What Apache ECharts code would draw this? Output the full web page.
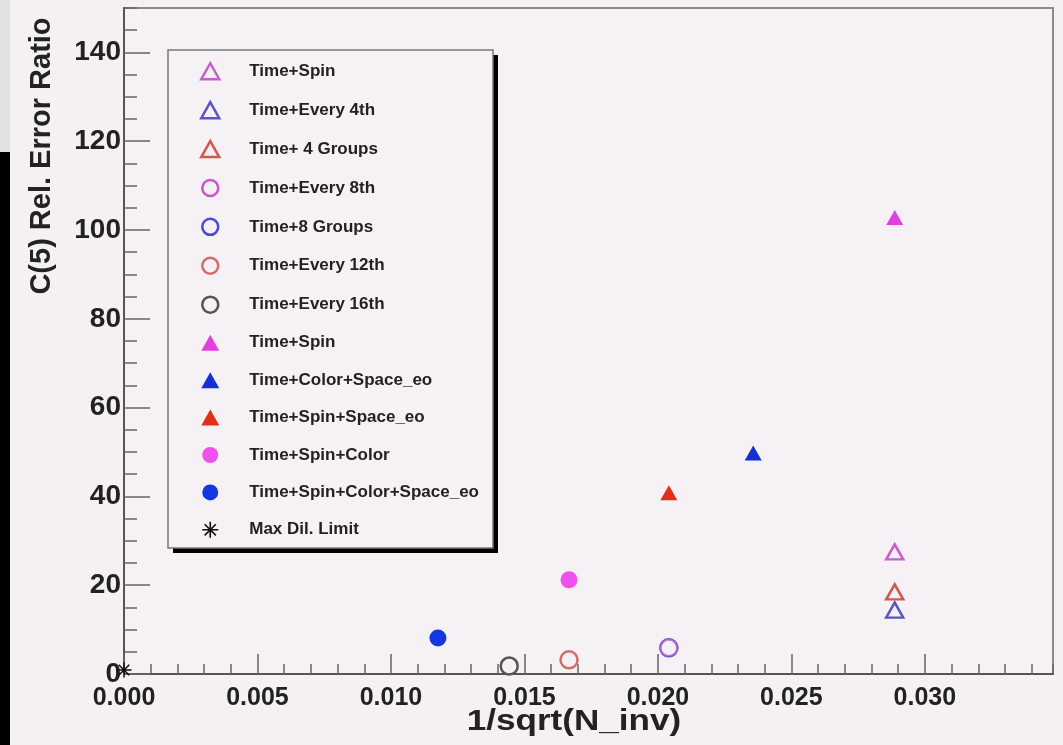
<!DOCTYPE html>
<html><head><meta charset="utf-8">
<script src="https://cdn.jsdelivr.net/npm/echarts@6/dist/echarts.min.js"></script>
<style>html,body{margin:0;padding:0;background:#f4f0f4;}#c{width:1063px;height:745px;}</style>
</head><body><div id="c"></div>
<script>
// ---- data ----
const seriesNames = ['Time+Spin','Time+Every 4th','Time+ 4 Groups','Time+Every 8th','Time+8 Groups','Time+Every 12th','Time+Every 16th','Time+Spin ','Time+Color+Space_eo','Time+Spin+Space_eo','Time+Spin+Color','Time+Spin+Color+Space_eo','Max Dil. Limit'];
const xValues = [0.02887,0.02887,0.02887,0.02041,0.02041,0.01667,0.01443,0.02887,0.02357,0.02041,0.01667,0.01176,0.0];
const yValues = [27.5,14.4,18.5,5.9,5.9,3.2,1.8,102.8,49.8,40.8,21.2,8.1,0.9];
const xAxisTitle = '1/sqrt(N_inv)';
const yAxisTitle = 'C(5) Rel. Error Ratio';
const xRange = [0, 0.0348];
const yRange = [0, 150];
const xMajorStep = 0.005, xMinorStep = 0.001;
const yMajorStep = 20, yMinorStep = 5;

// ---- styles ----
const markerKinds = ['triangle','triangle','triangle','circle','circle','circle','circle','triangle','triangle','triangle','circle','circle','star'];
const markerFilled = [false,false,false,false,false,false,false,true,true,true,true,true,true];
const markerColors = ['#c75fcf','#5a55c0','#cf5a50','#cc55cc','#4a4ad8','#d46a6a','#555555','#e040e0','#1430d0','#e0301c','#f050ee','#1438e0','#111111'];
const markerOpacity = [1,1,1,0.5,1,1,1,1,1,1,1,1,1];
const markerZ = [5,6,7,12,11,13,14,15,16,17,18,19,20];

const starPath = 'path://M-1,-10L1,-10L1,10L-1,10Z M-10,-1L10,-1L10,1L-10,1Z M-6.3,-7.7L7.7,6.3L6.3,7.7L-7.7,-6.3Z M6.3,-7.7L7.7,-6.3L-6.3,7.7L-7.7,6.3Z';

const font = 'Liberation Sans, Arial, Helvetica, sans-serif';

function styleFor(i, forceOpaque) {
  const op = forceOpaque ? 1 : markerOpacity[i];
  return markerFilled[i]
    ? { color: markerColors[i], opacity: op }
    : { color: '#f4f0f4', borderColor: markerColors[i], borderWidth: 2.5, opacity: op };
}

const series = seriesNames.map((n, i) => {
  const kind = markerKinds[i];
  const symbol = kind === 'star' ? starPath : kind;
  const size = kind === 'triangle' ? [17, 15] : (kind === 'star' ? 15 : 17);
  return {
    type: 'scatter', name: n, symbol: symbol, symbolSize: size,
    xAxisIndex: 0, yAxisIndex: 0,
    itemStyle: styleFor(i, false),
    data: [[xValues[i], yValues[i]]],
    z: markerZ[i]
  };
});

const legendData = seriesNames.map((n, i) => ({ name: n, itemStyle: styleFor(i, true) }));

const chart = echarts.init(document.getElementById('c'), null, { renderer: 'canvas' });
chart.setOption({
  backgroundColor: '#f4f0f4',
  animation: false,
  grid: { left: 124, right: 10, top: 8, bottom: 71, show: true, borderColor: '#8a8a8a', borderWidth: 2, backgroundColor: '#f5f1f5' },
  xAxis: [
    { type: 'value', min: xRange[0], max: xRange[1], interval: xMajorStep, position: 'bottom',
      axisLine: { show: true, onZero: false, lineStyle: { color: '#555', width: 2 } },
      axisTick: { show: true, inside: true, length: 20, lineStyle: { color: '#666', width: 1.5 } },
      axisLabel: { show: true, margin: 12, showMaxLabel: false, formatter: v => v.toFixed(3), color: '#222', fontSize: 25, fontWeight: 'bold', fontFamily: font },
      splitLine: { show: false } },
    { type: 'value', min: xRange[0], max: xRange[1], interval: xMinorStep, position: 'bottom',
      axisLine: { show: false },
      axisTick: { show: true, inside: true, length: 10, lineStyle: { color: '#666', width: 1.5 } },
      axisLabel: { show: false }, splitLine: { show: false } }
  ],
  yAxis: [
    { type: 'value', min: yRange[0], max: yRange[1], interval: yMajorStep, position: 'left',
      axisLine: { show: true, onZero: false, lineStyle: { color: '#555', width: 2 } },
      axisTick: { show: true, inside: true, length: 26, lineStyle: { color: '#666', width: 1.5 } },
      axisLabel: { show: true, margin: 3, showMaxLabel: false, color: '#222', fontSize: 28, fontWeight: 'bold', fontFamily: font },
      splitLine: { show: false } },
    { type: 'value', min: yRange[0], max: yRange[1], interval: yMinorStep, position: 'left',
      axisLine: { show: false },
      axisTick: { show: true, inside: true, length: 13, lineStyle: { color: '#666', width: 1.5 } },
      axisLabel: { show: false }, splitLine: { show: false } }
  ],
  legend: {
    orient: 'vertical', left: 200, top: 62, padding: 0, z: 20,
    itemWidth: 18, itemHeight: 16, itemGap: 20.4,
    selectedMode: false,
    data: legendData,
    textStyle: { color: '#222', fontSize: 17, fontWeight: 'bold', fontFamily: font, lineHeight: 16, padding: [0, 0, 0, 25] }
  },
  graphic: [
    { type: 'rect', z: 15, shape: { x: 0, y: 0, width: 10, height: 152 }, style: { fill: '#e2e2e2' } },
    { type: 'rect', z: 15, shape: { x: 0, y: 152, width: 10, height: 593 }, style: { fill: '#000' } },
    { type: 'rect', z: 15, shape: { x: 173, y: 55, width: 325, height: 498 }, style: { fill: '#000' } },
    { type: 'rect', z: 16, shape: { x: 168, y: 50, width: 325, height: 498 }, style: { fill: '#f5f1f5', stroke: '#777', lineWidth: 1.5 } },
    { type: 'text', z: 16, x: 42, y: 156, rotation: Math.PI / 2,
      style: { text: yAxisTitle, fill: '#222', font: 'bold 29px ' + font, align: 'center', verticalAlign: 'middle' } },
    { type: 'text', z: 16, x: 574, y: 722, scaleX: 1.17,
      style: { text: xAxisTitle, fill: '#222', font: 'bold 30px ' + font, align: 'center', verticalAlign: 'middle' } }
  ],
  series: series
});
</script></body></html>
